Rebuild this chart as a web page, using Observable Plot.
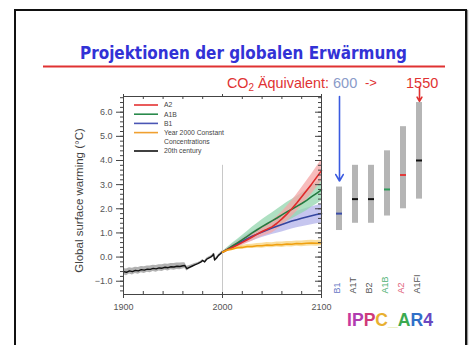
<!DOCTYPE html>
<html><head><meta charset="utf-8">
<script src="https://cdn.jsdelivr.net/npm/d3@7"></script>
<script src="https://cdn.jsdelivr.net/npm/@observablehq/plot@0.6"></script>
<style>
html,body{margin:0;padding:0;background:#fff;}
#wrap{position:relative;width:472px;height:345px;overflow:hidden;background:#fff;font-family:"Liberation Sans",Arial,sans-serif;}
#wrap > svg{position:absolute;left:0;top:0;}
#border{position:absolute;left:14px;top:9px;width:449px;height:400px;border:2px solid #111;box-shadow:1px 1px 1px #999;}
</style></head><body><div id="wrap"><div id="border"></div></div>
<script>
// ---- data ----
const histYears  = [1900,1903,1906,1909,1912,1915,1918,1921,1924,1927,1930,1933,1936,1939,1942,1945,1948,1951,1954,1957,1960,1962,1964,1966,1969,1972,1975,1978,1980,1982,1984,1986,1988,1990,1991,1992,1994,1996,1998,2000];
const histValues = [-0.60,-0.63,-0.57,-0.60,-0.55,-0.57,-0.52,-0.54,-0.50,-0.51,-0.47,-0.49,-0.45,-0.46,-0.42,-0.44,-0.40,-0.41,-0.38,-0.39,-0.36,-0.35,-0.48,-0.44,-0.38,-0.32,-0.27,-0.21,-0.14,-0.20,-0.09,-0.04,0.00,0.06,0.13,-0.12,-0.04,0.07,0.14,0.22];
const histSpread = [0.13,0.14,0.13,0.14,0.13,0.14,0.13,0.14,0.13,0.14,0.13,0.14,0.13,0.14,0.13,0.14,0.13,0.14,0.13,0.14,0.13,0.12,0.10,0.08,0.06,0.05,0.04,0.04,0.04,0.04,0.04,0.04,0.04,0.04,0.04,0.04,0.04,0.04,0.04,0.04];

const projYears = [2000,2005,2010,2015,2020,2025,2030,2035,2040,2045,2050,2055,2060,2065,2070,2075,2080,2085,2090,2095,2100];
const a2Values  = [0.20,0.30,0.40,0.50,0.61,0.72,0.83,0.95,1.06,1.15,1.25,1.40,1.58,1.78,2.00,2.24,2.50,2.76,3.02,3.30,3.58];
const a2Spread  = [0.02,0.06,0.09,0.11,0.13,0.15,0.17,0.19,0.21,0.23,0.25,0.27,0.29,0.31,0.33,0.35,0.37,0.39,0.41,0.43,0.45];
const a1bValues = [0.20,0.33,0.46,0.59,0.72,0.86,1.00,1.13,1.26,1.38,1.50,1.62,1.75,1.87,1.98,2.10,2.22,2.35,2.50,2.64,2.78];
const a1bSpread = [0.02,0.07,0.11,0.14,0.17,0.20,0.23,0.26,0.29,0.31,0.33,0.35,0.37,0.39,0.40,0.41,0.42,0.43,0.44,0.45,0.46];
const b1Values  = [0.20,0.32,0.44,0.55,0.66,0.76,0.86,0.95,1.04,1.12,1.20,1.28,1.35,1.42,1.49,1.55,1.61,1.66,1.71,1.76,1.80];
const b1Spread  = [0.02,0.06,0.09,0.12,0.15,0.17,0.19,0.21,0.23,0.25,0.27,0.29,0.31,0.32,0.33,0.34,0.35,0.36,0.37,0.38,0.39];
const constValues = [0.20,0.29,0.33,0.39,0.40,0.44,0.44,0.47,0.47,0.50,0.49,0.52,0.51,0.54,0.53,0.56,0.55,0.57,0.58,0.57,0.59];
const constSpread = [0.02,0.05,0.06,0.07,0.08,0.08,0.09,0.09,0.10,0.10,0.10,0.10,0.11,0.11,0.11,0.11,0.12,0.12,0.12,0.12,0.12];

const scenarios   = ["B1","A1T","B2","A1B","A2","A1FI"];
const rangeLow    = [1.1,1.4,1.4,1.7,2.0,2.4];
const rangeBest   = [1.8,2.4,2.4,2.8,3.4,4.0];
const rangeHigh   = [2.9,3.8,3.8,4.4,5.4,6.4];
const bestColors  = ["#3a4ca8","#111111","#111111","#2f9a5a","#e03a3a","#111111"];
const labelColors = ["#6476c4","#555555","#555555","#4fb273","#e0607a","#555555"];

const legendLabels = ["A2","A1B","B1","Year 2000 Constant","Concentrations","20th century"];
const legendColors = ["#e43232","#2a8a4c","#4a55b4","#f0a030",null,"#111111"];

const xMajorTicks = [1900,2000,2100];
const xMinorTicks = [1920,1940,1960,1980,2020,2040,2060,2080];
const yMajorTicks = [-1,0,1,2,3,4,5,6];
const yMinorTicks = d3.range(-1.4,6.61,0.2).map(v=>+v.toFixed(1));
const yDomain = [-1.55, 6.65];
const refYear = 2000, refTop = 3.8;

// arrows (data units): CO2 annotation
const arrowNames = ["B1","A1FI"], arrowFrom = [6.65,7.05], arrowTo = [3.15,6.45], arrowColors = ["#3a5ae0","#e03030"];

// ---- tables ----
const hist = histYears.map((year,i)=>({year, value:histValues[i], lo:histValues[i]-histSpread[i], hi:histValues[i]+histSpread[i]}));
const series = [
  {name:"B1",  values:b1Values,  spread:b1Spread,  line:"#34469f", band:"#b3b3ea"},
  {name:"A1B", values:a1bValues, spread:a1bSpread, line:"#237a40", band:"#93d6ad"},
  {name:"A2",  values:a2Values,  spread:a2Spread,  line:"#e02a2a", band:"#f4a5a5"},
  {name:"Const", values:constValues, spread:constSpread, line:"#f0a010", band:"#f7d37e"}
];
const tables = series.map(s => projYears.map((year,i)=>({year, value:s.values[i], lo:s.values[i]-s.spread[i], hi:s.values[i]+s.spread[i]})));

const W = 472, H = 345, mT = 96, mB = 51, mL = 123, mR = 151;
const frameW = W - mL - mR, frameH = H - mT - mB;
const axisColor = "#444";

const main = Plot.plot({
  width: W, height: H, marginTop: mT, marginBottom: mB, marginLeft: mL, marginRight: mR,
  style: {background: "transparent", fontFamily: "Liberation Sans, Arial, sans-serif", fontSize: "9px", color: "#555"},
  x: {domain: [1900, 2100]},
  y: {domain: yDomain},
  marks: [
    Plot.ruleX([refYear], {y1: yDomain[0], y2: refTop, stroke: "#c8c8c8", strokeWidth: 1}),
    Plot.areaY(hist, {x: "year", y1: "lo", y2: "hi", fill: "#a3a3a3", fillOpacity: 0.85}),
    ...series.map((s,k) => Plot.areaY(tables[k], {x: "year", y1: "lo", y2: "hi", fill: s.band, fillOpacity: 0.75})),
    Plot.lineY(hist, {x: "year", y: "value", stroke: "#111", strokeWidth: 1.4}),
    ...series.map((s,k) => Plot.lineY(tables[k], {x: "year", y: "value", stroke: s.line, strokeWidth: 1.6})),
    Plot.frame({stroke: axisColor}),
    Plot.axisY({ticks: yMajorTicks, tickSize: 7, tickPadding: 4, tickFormat: d3.format(".1f"), label: null, stroke: axisColor}),
    Plot.axisY({ticks: yMinorTicks, tickSize: 3, tickFormat: () => "", label: null, stroke: axisColor}),
    Plot.tickY(yMajorTicks, {y: d => d, insetLeft: frameW - 6, stroke: axisColor}),
    Plot.tickY(yMinorTicks, {y: d => d, insetLeft: frameW - 3, stroke: axisColor}),
    Plot.axisX({ticks: xMajorTicks, tickSize: 4, tickPadding: 5, tickFormat: d => String(d), label: null, stroke: axisColor}),
    Plot.tickX(xMajorTicks, {x: d => d, insetTop: frameH - 2, stroke: axisColor}),
    Plot.tickX(xMinorTicks, {x: d => d, insetTop: frameH - 3, stroke: axisColor}),
    Plot.axisX({anchor: "top", ticks: xMajorTicks, tickSize: 3, tickFormat: () => "", label: null, stroke: axisColor}),
    Plot.tickX(xMinorTicks, {x: d => d, insetBottom: frameH - 3, stroke: axisColor}),
    Plot.text(["Global surface warming (°C)"], {frameAnchor: "left", textAnchor: "middle", dx: -44, dy: 5, rotate: -90, fontSize: 11.5, fill: "#444"})
  ]
});

const bars = scenarios.map((name,i)=>({name, low:rangeLow[i], best:rangeBest[i], high:rangeHigh[i], bestColor:bestColors[i], labelColor:labelColors[i]}));
const arrows = arrowNames.map((name,i)=>({name, from:arrowFrom[i], to:arrowTo[i], color:arrowColors[i]}));

const side = Plot.plot({
  width: W, height: H, marginTop: mT, marginBottom: mB, marginLeft: 331, marginRight: 45,
  style: {background: "transparent", fontFamily: "Liberation Sans, Arial, sans-serif", overflow: "visible"},
  x: {type: "band", domain: scenarios, paddingInner: 0.6, paddingOuter: 0.3, axis: null},
  y: {domain: yDomain, axis: null},
  color: {type: "identity"},
  marks: [
    Plot.barY(bars, {x: "name", y1: "low", y2: "high", fill: "#b5b5b5"}),
    Plot.tickY(bars, {x: "name", y: "best", stroke: "bestColor", strokeWidth: 2}),
    Plot.text(bars, {x: "name", frameAnchor: "bottom", text: "name", rotate: -90, textAnchor: "start", fill: "labelColor", fontSize: 9, dy: -1}),
    Plot.arrow(arrows, {x1: "name", x2: "name", y1: "from", y2: "to", stroke: "color", strokeWidth: 1.6, headLength: 7})
  ]
});

const wrap = document.getElementById("wrap");
wrap.appendChild(main);
wrap.appendChild(side);

// ---- decorations: title, subtitle, legend, logo ----
const svg = d3.select(wrap).append("svg").attr("width", W).attr("height", H)
  .style("font-family", "Liberation Sans, Arial, sans-serif");
svg.append("text").attr("x", 243.5).attr("y", 59).attr("text-anchor", "middle")
  .attr("font-family", "DejaVu Sans").attr("font-weight", "bold").attr("font-size", 18)
  .attr("textLength", 327).attr("lengthAdjust", "spacingAndGlyphs").attr("fill", "#3232d6")
  .text("Projektionen der globalen  Erwärmung");
svg.append("line").attr("x1", 43).attr("x2", 445).attr("y1", 66.5).attr("y2", 66.5)
  .attr("stroke", "#e03232").attr("stroke-width", 2);
const co = svg.append("text").attr("x", 227).attr("y", 88).attr("font-size", 14.5).attr("fill", "#e03232")
  .attr("textLength", 102).attr("lengthAdjust", "spacingAndGlyphs");
co.append("tspan").text("CO");
co.append("tspan").attr("font-size", 10).attr("dy", 3).text("2");
co.append("tspan").attr("dy", -3).text(" Äquivalent:");
svg.append("text").attr("x", 333).attr("y", 88).attr("font-size", 14.5).attr("fill", "#8a9bc9").text("600");
svg.append("text").attr("x", 365).attr("y", 87).attr("font-size", 13).attr("fill", "#e03232").text("->");
svg.append("text").attr("x", 406).attr("y", 88).attr("font-size", 14.5).attr("fill", "#e03232").text("1550");

// legend
const lg = svg.append("g").attr("font-size", 6.8).attr("fill", "#444");
legendLabels.forEach((lab, i) => {
  const y = 105 + 9.2 * i;
  if (legendColors[i]) lg.append("line").attr("x1", 134).attr("x2", 158).attr("y1", y).attr("y2", y)
    .attr("stroke", legendColors[i]).attr("stroke-width", 1.6);
  lg.append("text").attr("x", 164).attr("y", y + 2.3).text(lab);
});

// logo
const logoParts = ["I","P","P","C","_","A","R","4"];
const logoColors = ["#c8399c","#b03cb0","#d03a78","#e8b030","#dfe59a","#3caa50","#3070c8","#6a48c0"];
const logo = svg.append("text").attr("x", 347).attr("y", 326).attr("font-size", 18).attr("font-weight", "bold")
  .attr("textLength", 86).attr("lengthAdjust", "spacingAndGlyphs");
logoParts.forEach((p, i) => logo.append("tspan").attr("fill", logoColors[i]).text(p));
</script>
</body></html>
